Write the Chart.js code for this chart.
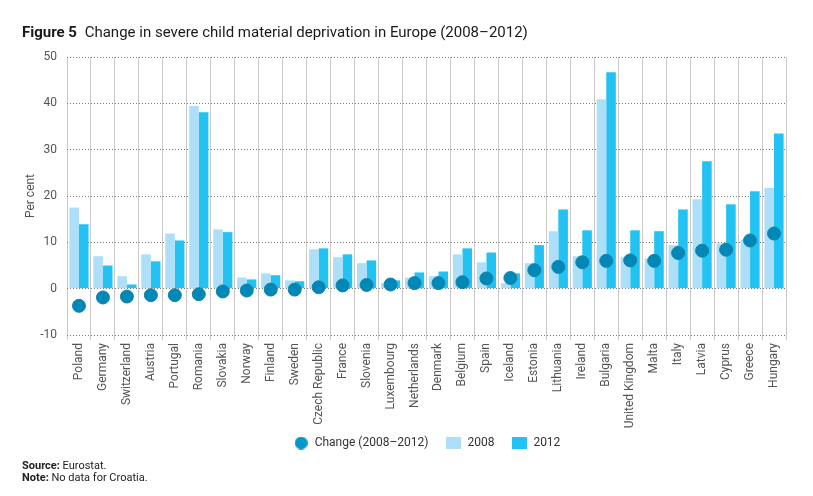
<!DOCTYPE html>
<html>
<head>
<meta charset="utf-8">
<script src="https://cdn.jsdelivr.net/npm/chart.js@4/dist/chart.umd.min.js"></script>
<style>
  html, body { margin: 0; padding: 0; background: #fff; }
  body { width: 813px; height: 496px; position: relative; overflow: hidden; font-family: Roboto, "Liberation Sans", sans-serif; }
  #wrap { position: absolute; left: 0; top: 0; width: 813px; height: 496px; }
  .title { position: absolute; left: 22px; top: 23px; font-size: 15px; color: #1a1a1a; white-space: nowrap; }
  .title b { margin-right: 4px; }
  .foot { position: absolute; left: 22px; font-size: 11px; color: #222; }
</style>
</head>
<body>
<div id="wrap"><canvas id="chart"></canvas></div>
<div class="title"><b>Figure 5</b> Change in severe child material deprivation in Europe (2008–2012)</div>
<div class="foot" style="top:459px"><b>Source:</b> Eurostat.</div>
<div class="foot" style="top:471px"><b>Note:</b> No data for Croatia.</div>
<script>
const countries = ['Poland', 'Germany', 'Switzerland', 'Austria', 'Portugal', 'Romania', 'Slovakia', 'Norway',
  'Finland', 'Sweden', 'Czech Republic', 'France', 'Slovenia', 'Luxembourg', 'Netherlands', 'Denmark',
  'Belgium', 'Spain', 'Iceland', 'Estonia', 'Lithuania', 'Ireland', 'Bulgaria', 'United Kingdom',
  'Malta', 'Italy', 'Latvia', 'Cyprus', 'Greece', 'Hungary'];
const values2008 = [17.5, 7.0, 2.7, 7.4, 11.9, 39.4, 12.8, 2.4, 3.3, 1.8, 8.5, 6.8, 5.5, 1.2, 2.4, 2.7,
  7.4, 5.7, 1.2, 5.5, 12.4, 7.0, 40.9, 6.8, 6.5, 9.4, 19.3, 9.8, 10.6, 21.7];
const values2012 = [13.9, 5.0, 0.9, 5.9, 10.4, 38.1, 12.2, 2.0, 2.9, 1.6, 8.7, 7.4, 6.1, 1.8, 3.5, 3.7,
  8.7, 7.8, 3.3, 9.4, 17.1, 12.6, 46.7, 12.6, 12.4, 17.1, 27.5, 18.2, 21.0, 33.5];
const change = [-3.7, -1.9, -1.7, -1.4, -1.4, -1.2, -0.6, -0.4, -0.2, -0.2, 0.3, 0.7, 0.8, 0.9, 1.2, 1.2,
  1.4, 2.2, 2.3, 4.0, 4.7, 5.7, 6.0, 6.1, 6.0, 7.7, 8.2, 8.4, 10.4, 11.9];
const yTicks = [-10, 0, 10, 20, 30, 40, 50];

const COL_DOT = '#0088b8';
const COL_2008 = '#ade0f8';
const COL_2012 = '#22c3f2';

function swatch(w, h, color, round) {
  const c = document.createElement('canvas');
  c.width = w; c.height = h;
  const g = c.getContext('2d');
  g.fillStyle = color;
  if (round) { g.beginPath(); g.arc(w / 2, h / 2, w / 2, 0, Math.PI * 2); g.fill(); }
  else g.fillRect(0, 0, w, h);
  return c;
}
const legendIcons = [swatch(13, 13, '#0099cc', true), swatch(15, 12, COL_2008), swatch(15, 12, COL_2012)];

// legend sits a bit right of centre and overlaps the label band in the original
const legendShift = {
  id: 'legendShift',
  afterLayout(chart) {
    const lg = chart.legend;
    const dy = lg.top - 419;
    lg.left += 34; lg.right += 34;
    lg.top -= dy; lg.bottom -= dy;
  }
};

Chart.defaults.font.family = 'Roboto, "Liberation Sans", sans-serif';

new Chart(document.getElementById('chart'), {
  type: 'bar',
  data: {
    labels: countries,
    datasets: [
      {
        type: 'line',
        label: 'Change (2008–2012)',
        data: change,
        showLine: false,
        pointRadius: 6.5,
        pointHoverRadius: 6.5,
        pointBackgroundColor: COL_DOT,
        pointBorderColor: '#1a7fa6',
        pointBorderWidth: 1
      },
      {
        label: '2008',
        data: values2008,
        backgroundColor: COL_2008,
        categoryPercentage: 0.8,
        barPercentage: 1.0
      },
      {
        label: '2012',
        data: values2012,
        backgroundColor: COL_2012,
        categoryPercentage: 0.8,
        barPercentage: 1.0
      }
    ]
  },
  options: {
    responsive: true,
    maintainAspectRatio: false,
    animation: false,
    layout: { padding: { top: 57, right: 27, bottom: 23, left: 0 } },
    plugins: {
      tooltip: { enabled: false },
      legend: {
        position: 'bottom',
        labels: {
          usePointStyle: true,
          pointStyleWidth: 15,
          boxHeight: 12,
          padding: 18,
          color: '#333',
          font: { size: 12 },
          generateLabels(chart) {
            return chart.data.datasets.map((ds, i) => ({
              text: ds.label,
              pointStyle: legendIcons[i],
              fillStyle: 'transparent',
              strokeStyle: 'transparent',
              lineWidth: 0,
              hidden: false,
              datasetIndex: i,
              fontColor: '#333'
            }));
          }
        }
      }
    },
    scales: {
      x: {
        grid: { offset: true, color: '#c8c8c8', lineWidth: 1, drawTicks: true, tickLength: 5 },
        border: { display: false },
        ticks: { minRotation: 90, maxRotation: 90, padding: 3, color: '#555', font: { size: 12 }, autoSkip: false },
        afterFit(scale) { scale.height = 98; }
      },
      y: {
        min: -10,
        max: 50,
        afterBuildTicks(scale) { scale.ticks = yTicks.map(v => ({ value: v })); },
        grid: { color: '#777', lineWidth: 1, drawTicks: false },
        border: { display: false, dash: [1, 2] },
        ticks: { padding: 10, color: '#555', font: { size: 12 } },
        title: { display: true, text: 'Per cent', color: '#555', font: { size: 12 }, padding: { top: 24, bottom: 0 } },
        afterFit(scale) { scale.width = 67; }
      }
    }
  },
  plugins: [legendShift]
});
</script>
</body>
</html>
